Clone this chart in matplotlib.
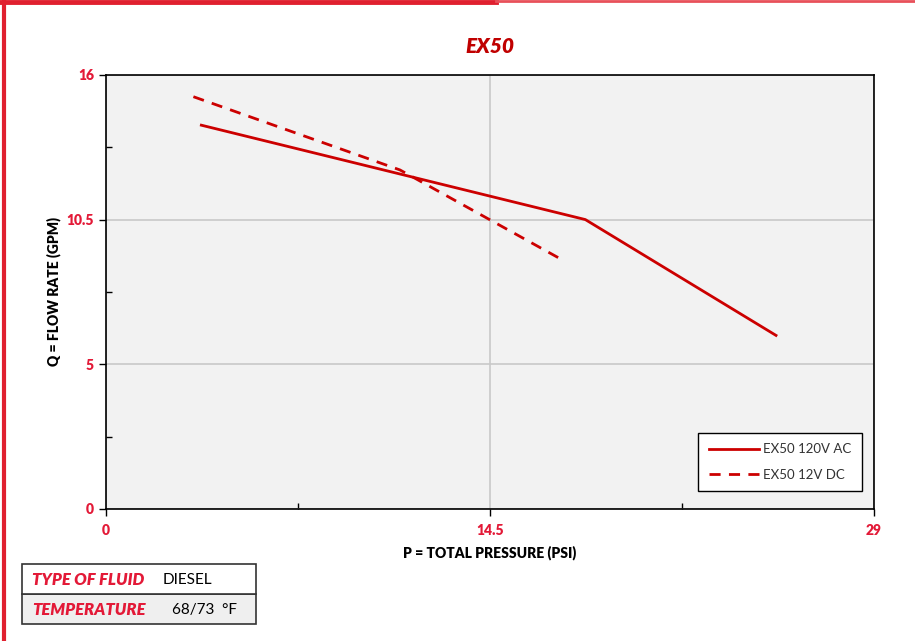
import matplotlib
matplotlib.use("Agg")
import matplotlib.pyplot as plt
from matplotlib.patches import Rectangle
from matplotlib.lines import Line2D

# pump curves (linear 0-16 scale of the plot)
ac_pressure = [3.6, 18.1, 25.3]
ac_flow = [14.15, 10.67, 6.4]
dc_pressure = [3.3, 11.1, 17.2]
dc_flow = [15.2, 12.5, 9.2]

# the labelled ticks sit evenly spaced on the axis
x_ticks = [0, 14.5, 29]
x_labels = ["0", "14.5", "29"]
y_ticks = [0, 16 / 3, 32 / 3, 16]
y_labels = ["0", "5", "10.5", "16"]
x_minor = [7.25, 21.75]
y_minor = [8 / 3, 8, 40 / 3]

line_red = "#cc0000"
label_red = "#e31937"

plt.rcParams['font.family'] = ['Lato', 'DejaVu Sans']

fig = plt.figure(figsize=(9.15, 6.41), dpi=100)
ax = fig.add_axes([106 / 915, 1 - 509 / 641, 768 / 915, 434 / 641])
ax.set_facecolor("#f2f2f2")

ax.plot(ac_pressure, ac_flow, color=line_red, lw=2, label="EX50 120V AC")
ax.plot(dc_pressure, dc_flow, color=line_red, lw=2, ls=(0, (4, 3)), label="EX50 12V DC")

ax.set_xlim(0, 29)
ax.set_ylim(0, 16)
ax.set_xticks(x_ticks)
ax.set_yticks(y_ticks)
ax.set_xticklabels(x_labels)
ax.set_yticklabels(y_labels)
ax.set_xticks(x_minor, minor=True)
ax.set_yticks(y_minor, minor=True)
ax.tick_params(which="major", direction="out", length=5, width=1, colors="black",
               labelcolor=label_red, labelsize=10)
ax.tick_params(which="minor", direction="in", length=4, width=1, colors="black")
ax.tick_params(axis="x", pad=6)
for lab in ax.get_xticklabels() + ax.get_yticklabels():
    lab.set_fontweight("heavy")

ax.grid(True, which="major", color="#c8c8c8", lw=1.2)
for sp in ax.spines.values():
    sp.set_color("black")
    sp.set_linewidth(1.2)

ax.set_title("EX50", color="#c00000", fontsize=15, fontweight="heavy", style="italic", pad=16)
ax.set_xlabel("P = TOTAL PRESSURE (PSI)", fontsize=10, fontweight="heavy", labelpad=6)
ax.set_ylabel("Q = FLOW RATE (GPM)", fontsize=10, fontweight="heavy", labelpad=4)

leg = ax.legend(loc="lower right", bbox_to_anchor=(0.984, 0.041), frameon=True, fancybox=False,
                edgecolor="black", facecolor="white", framealpha=1, fontsize=9.5,
                handlelength=3.8, handletextpad=0.3, borderpad=0.8, labelspacing=1.0,
                borderaxespad=0)
leg.get_frame().set_linewidth(1)
for t in leg.get_texts():
    t.set_color("#333333")

# page frame in red
fig.add_artist(Line2D([0, 496 / 915], [1 - 2 / 641] * 2, color="#e0202f", lw=3.5,
                      transform=fig.transFigure))
fig.add_artist(Line2D([496 / 915, 1], [1 - 1 / 641] * 2, color="#e8505a", lw=2,
                      transform=fig.transFigure))
fig.add_artist(Line2D([4 / 915] * 2, [0, 1], color="#e0202f", lw=3,
                      transform=fig.transFigure))

# fluid info box
def px(x, y):
    return x / 915, 1 - y / 641

x0, y0 = px(22, 624)
w = (256 - 22) / 915
h = 30 / 641
fig.add_artist(Rectangle((x0, y0), w, h, transform=fig.transFigure,
                         facecolor="#efefef", edgecolor="#333333", lw=1.2))
fig.add_artist(Rectangle((x0, y0 + h), w, h, transform=fig.transFigure,
                         facecolor="white", edgecolor="#333333", lw=1.2))
fig.text(*px(32, 580), "TYPE OF FLUID", color=label_red, fontsize=12, fontweight="heavy",
         style="italic", va="center")
fig.text(*px(163, 580), "DIESEL", color="black", fontsize=11, va="center")
fig.text(*px(32, 610), "TEMPERATURE", color=label_red, fontsize=12, fontweight="heavy",
         style="italic", va="center")
fig.text(*px(172, 610), "68/73  °F", color="black", fontsize=11, va="center")

fig.savefig("out.png", dpi=100)
